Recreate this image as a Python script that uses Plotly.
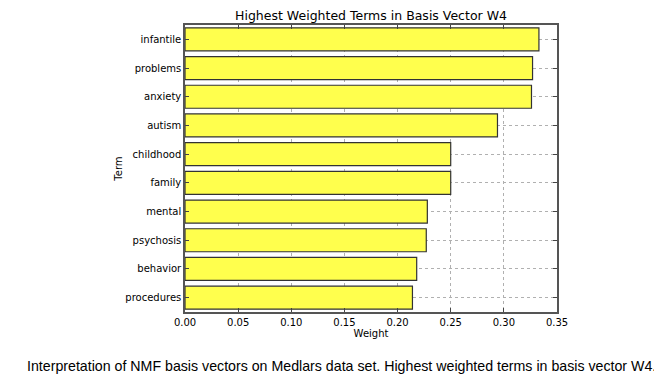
import plotly.graph_objects as go

terms = ["infantile", "problems", "anxiety", "autism", "childhood",
         "family", "mental", "psychosis", "behavior", "procedures"]
weights = [0.333, 0.327, 0.326, 0.294, 0.250, 0.250, 0.228, 0.227, 0.218, 0.214]
x_ticks = [0.00, 0.05, 0.10, 0.15, 0.20, 0.25, 0.30, 0.35]

terms_plot = terms[::-1]
weights_plot = weights[::-1]

# page body has an 8px default margin; figure is sized to fill the rest
OFF = 8
W, H = 662 - OFF, 376 - OFF
L, R, T, B = 185 - OFF, 662 - 557, 25 - OFF, 376 - 312

fig = go.Figure()
fig.add_trace(go.Bar(
    x=weights_plot, y=terms_plot, orientation="h", width=0.8,
    marker=dict(color="#ffff4d", line=dict(color="#333333", width=1.2)),
))

axis_font = dict(family="DejaVu Sans", size=10, color="black")
fig.update_layout(
    width=W, height=H,
    margin=dict(l=L, r=R, t=T, b=B),
    plot_bgcolor="white", paper_bgcolor="white",
    showlegend=False,
    title=dict(text="Highest Weighted Terms in Basis Vector W4",
               x=((185 + 557) / 2 - OFF) / W, xanchor="center",
               y=1 - (15.5 - OFF) / H, yanchor="middle",
               font=dict(family="DejaVu Sans", size=12.5, color="black")),
    xaxis=dict(range=[0, 0.35], tickvals=x_ticks,
               ticktext=[f"{v:.2f}" for v in x_ticks],
               ticks="inside", ticklen=4, tickcolor="#444",
               mirror="ticks", showline=True, linecolor="#555", linewidth=1.5,
               showgrid=True, gridcolor="#b0b0b0", griddash="dot", gridwidth=1,
               zeroline=False, tickfont=axis_font, automargin=False,
               title=dict(text="Weight", font=axis_font, standoff=1)),
    yaxis=dict(categoryorder="array", categoryarray=terms_plot,
               range=[-0.5, 9.5],
               ticks="inside", ticklen=4, tickcolor="#444",
               mirror="ticks", showline=True, linecolor="#555", linewidth=1.5,
               showgrid=True, gridcolor="#b0b0b0", griddash="dot", gridwidth=1,
               zeroline=False, tickfont=axis_font, automargin=False,
               title=dict(text="Term", font=axis_font, standoff=1)),
)
fig.add_annotation(
    text="Interpretation of NMF basis vectors on Medlars data set. Highest weighted terms in basis vector W4.",
    xref="paper", yref="paper",
    x=(341.5 - 185) / (557 - 185), y=-(366 - 312) / (312 - 25),
    xanchor="center", yanchor="middle", showarrow=False,
    font=dict(family="Liberation Sans", size=14.2, color="black"),
)
fig.write_html("out.html")
